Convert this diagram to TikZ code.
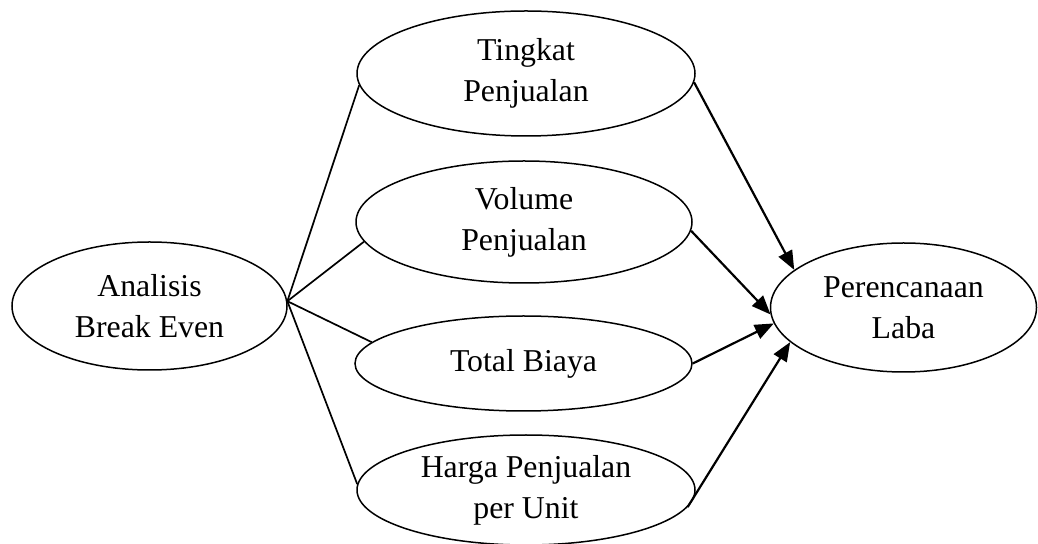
\documentclass[tikz,border=0pt]{standalone}
\usepackage{fontspec}
\setmainfont{Liberation Serif}
\usetikzlibrary{shapes.geometric,arrows.meta}
\begin{document}
\begin{tikzpicture}[x=0.5pt,y=-0.5pt,
  oval/.style={draw,ellipse,line width=0.75pt,inner sep=0pt,align=center,
    font=\fontsize{15.9pt}{20.5pt}\selectfont},
  link/.style={line width=0.85pt},
  arr/.style={line width=1.1pt,-{Triangle[length=9.5pt,width=7.5pt]}}]
\useasboundingbox (0,0) rectangle (1038,544);
\node[oval,minimum width=275pt*0.5,minimum height=128pt*0.5] (be) at (149.5,306) {Analisis\\Break Even};
\node[oval,minimum width=338pt*0.5,minimum height=125pt*0.5] (tp) at (526,73.5) {Tingkat\\Penjualan};
\node[oval,minimum width=336pt*0.5,minimum height=122pt*0.5] (vp) at (524,222) {Volume\\Penjualan};
\node[oval,minimum width=337pt*0.5,minimum height=95pt*0.5] (tb) at (523.5,363.5) {Total Biaya};
\node[oval,minimum width=338pt*0.5,minimum height=110pt*0.5] (hp) at (526,490) {Harga Penjualan\\per Unit};
\node[oval,minimum width=266pt*0.5,minimum height=129pt*0.5] (pl) at (903.5,307.5) {Perencanaan\\Laba};
\draw[link] (be.2.5) -- (tp.-176.8);
\draw[link] (be.2.5) -- (vp.-173);
\draw[link] (be.2.5) -- (tb.172.8);
\draw[link] (be.2.5) -- (hp.178.3);
\draw[arr] (tp.-3.9) -- (pl.161.3);
\draw[arr] (vp.-3.4) -- (pl.-177.6);
\draw[arr] (tb.0.5) -- (pl.187.9);
\draw[arr] (hp.-6.2) -- (pl.197.8);
\end{tikzpicture}
\end{document}
